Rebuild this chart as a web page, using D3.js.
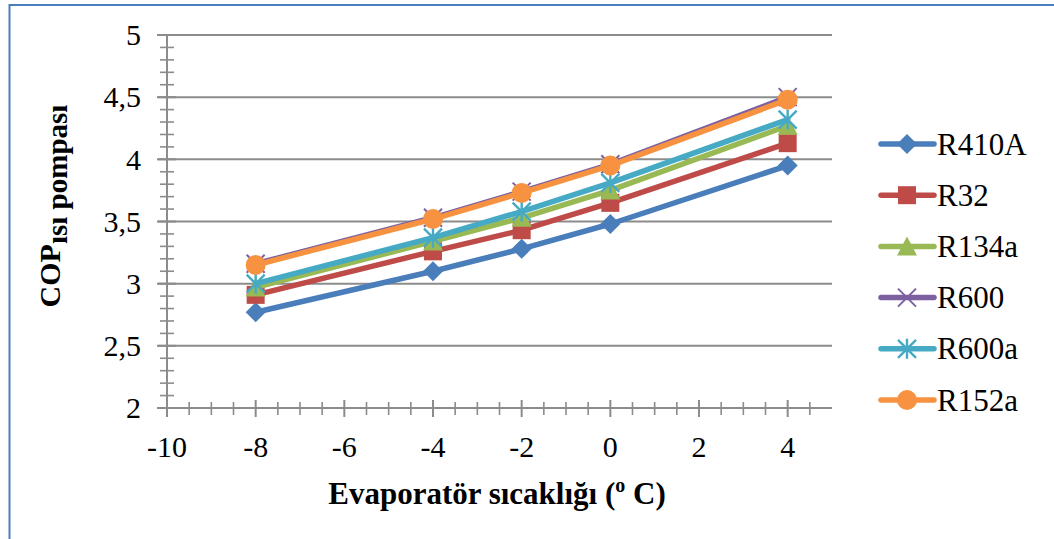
<!DOCTYPE html>
<html>
<head>
<meta charset="utf-8">
<script src="https://cdn.jsdelivr.net/npm/d3@7"></script>
<style>
  html, body { margin: 0; padding: 0; background: #fff; }
  svg { display: block; }
</style>
</head>
<body>
<svg id="chart" width="1054" height="539"></svg>
<script>
// Evaporator temperature (°C)
const temps = [-8, -4, -2, 0, 4];
// Heat pump COP per refrigerant
const seriesNames = ["R410A", "R32", "R134a", "R600", "R600a", "R152a"];
const r410a = [2.77, 3.10, 3.28, 3.48, 3.95];
const r32   = [2.91, 3.26, 3.43, 3.65, 4.13];
const r134a = [2.97, 3.34, 3.53, 3.75, 4.27];
const r600  = [3.16, 3.53, 3.74, 3.96, 4.50];
const r600a = [3.00, 3.37, 3.58, 3.81, 4.32];
const r152a = [3.15, 3.52, 3.73, 3.95, 4.48];
const xTicks = [-10, -8, -6, -4, -2, 0, 2, 4];
const yTicks = [2, 2.5, 3, 3.5, 4, 4.5, 5];
const yTickLabels = ["2", "2,5", "3", "3,5", "4", "4,5", "5"];

const seriesValues = [r410a, r32, r134a, r600, r600a, r152a];
const colors = ["#4A7EBB", "#BE4B48", "#98B954", "#7D60A0", "#46AAC5", "#F69240"];
const markers = ["diamond", "square", "triangle", "x", "star", "circle"];

const FONT = "'Liberation Serif', 'DejaVu Serif', serif";

const svg = d3.select("#chart")
  .attr("font-family", FONT)
  .style("font-family", FONT);

// outer frame
svg.append("rect")
  .attr("x", 9.5).attr("y", 5).attr("width", 1200).attr("height", 800)
  .attr("fill", "none").attr("stroke", "#4A7EBB").attr("stroke-width", 2);

const x = d3.scaleLinear().domain([-10, 5]).range([167, 832]);
const y = d3.scaleLinear().domain([2, 5]).range([408, 35]);

const gridColor = "#8C8C8C";

// horizontal gridlines
svg.append("g").selectAll("line")
  .data(yTicks.filter(v => v > 2))
  .join("line")
  .attr("x1", 158).attr("x2", x(5))
  .attr("y1", d => y(d)).attr("y2", d => y(d))
  .attr("stroke", gridColor).attr("stroke-width", 2);

// minor ticks
const yMinor = d3.range(21, 50).map(i => i / 10).filter(v => Math.abs(v * 2 - Math.round(v * 2)) > 1e-6);
svg.append("g").selectAll("line")
  .data(yMinor).join("line")
  .attr("x1", x(-10) - 7).attr("x2", x(-10) + 7)
  .attr("y1", d => y(d)).attr("y2", d => y(d))
  .attr("stroke", gridColor).attr("stroke-width", 1.6);

const xMinor = d3.range(-19, 10).map(i => i / 2).filter(v => v % 2 !== 0);
svg.append("g").selectAll("line")
  .data(xMinor).join("line")
  .attr("x1", d => x(d)).attr("x2", d => x(d))
  .attr("y1", y(2) - 6).attr("y2", y(2) + 7)
  .attr("stroke", gridColor).attr("stroke-width", 1.6);

// major ticks
svg.append("g").selectAll("line")
  .data(yTicks).join("line")
  .attr("x1", x(-10) - 10).attr("x2", x(-10) + 9)
  .attr("y1", d => y(d)).attr("y2", d => y(d))
  .attr("stroke", gridColor).attr("stroke-width", 2);
svg.append("g").selectAll("line")
  .data(xTicks).join("line")
  .attr("x1", d => x(d)).attr("x2", d => x(d))
  .attr("y1", y(2) - 8).attr("y2", y(2) + 9)
  .attr("stroke", gridColor).attr("stroke-width", 2);

// axis lines
svg.append("line").attr("x1", x(-10)).attr("x2", x(-10)).attr("y1", y(5)).attr("y2", y(2) + 9)
  .attr("stroke", gridColor).attr("stroke-width", 2);
svg.append("line").attr("x1", x(-10) - 10).attr("x2", x(5)).attr("y1", y(2)).attr("y2", y(2))
  .attr("stroke", gridColor).attr("stroke-width", 2);

// tick labels
svg.append("g").selectAll("text")
  .data(yTicks).join("text")
  .attr("x", 141).attr("y", d => y(d))
  .attr("dy", "0.34em").attr("text-anchor", "end")
  .attr("font-size", 30).attr("font-family", FONT)
  .text((d, i) => yTickLabels[i]);
svg.append("g").selectAll("text")
  .data(xTicks).join("text")
  .attr("x", d => x(d)).attr("y", 457)
  .attr("text-anchor", "middle")
  .attr("font-size", 30).attr("font-family", FONT)
  .text(d => d);

// axis titles
const xt = svg.append("text")
  .attr("x", 497).attr("y", 504).attr("text-anchor", "middle")
  .attr("font-size", 31).attr("font-weight", "bold").attr("font-family", FONT);
xt.append("tspan").text("Evaporatör sıcaklığı (");
xt.append("tspan").attr("font-size", 20).attr("dy", -12).text("o");
xt.append("tspan").attr("dy", 12).text(" C)");

const yt = svg.append("text")
  .attr("transform", "translate(60,206) rotate(-90)")
  .attr("text-anchor", "middle")
  .attr("font-size", 30).attr("font-weight", "bold").attr("font-family", FONT);
yt.append("tspan").text("COP");
yt.append("tspan").attr("font-size", 29).attr("dy", 7).text("ısı pompası");

// marker drawing
function drawMarker(g, type, color) {
  const s = 9;
  if (type === "diamond") {
    g.append("path").attr("d", `M0,${-s - 1}L${s + 1},0L0,${s + 1}L${-s - 1},0Z`).attr("fill", color);
  } else if (type === "square") {
    g.append("rect").attr("x", -s).attr("y", -s).attr("width", 2 * s).attr("height", 2 * s).attr("fill", color);
  } else if (type === "triangle") {
    g.append("path").attr("d", `M0,${-s - 1}L${s + 1},${s}L${-s - 1},${s}Z`).attr("fill", color);
  } else if (type === "x") {
    g.append("path").attr("d", `M${-s},${-s}L${s},${s}M${-s},${s}L${s},${-s}`)
      .attr("stroke", color).attr("stroke-width", 2).attr("fill", "none");
  } else if (type === "star") {
    g.append("path").attr("d", `M${-s},${-s}L${s},${s}M${-s},${s}L${s},${-s}M0,${-s - 1}L0,${s + 1}`)
      .attr("stroke", color).attr("stroke-width", 2.4).attr("fill", "none");
  } else if (type === "circle") {
    g.append("circle").attr("r", s + 1).attr("fill", color);
  }
}

const line = d3.line().x((d, i) => x(temps[i])).y(d => y(d));

seriesValues.forEach((vals, si) => {
  const g = svg.append("g");
  g.append("path").datum(vals).attr("d", line)
    .attr("fill", "none").attr("stroke", colors[si]).attr("stroke-width", 5.5)
    .attr("stroke-linejoin", "round").attr("stroke-linecap", "round");
  vals.forEach((v, i) => {
    drawMarker(g.append("g").attr("transform", `translate(${x(temps[i])},${y(v)})`), markers[si], colors[si]);
  });
});

// legend
const legend = svg.append("g");
seriesNames.forEach((name, i) => {
  const ly = 144 + i * 51.2;
  const g = legend.append("g");
  g.append("line").attr("x1", 881).attr("x2", 934).attr("y1", ly).attr("y2", ly)
    .attr("stroke", colors[i]).attr("stroke-width", 5.5).attr("stroke-linecap", "round");
  drawMarker(g.append("g").attr("transform", `translate(907,${ly})`), markers[i], colors[i]);
  g.append("text").attr("x", 937).attr("y", ly).attr("dy", "0.34em")
    .attr("font-size", 31).attr("font-family", FONT).text(name);
});
</script>
</body>
</html>
